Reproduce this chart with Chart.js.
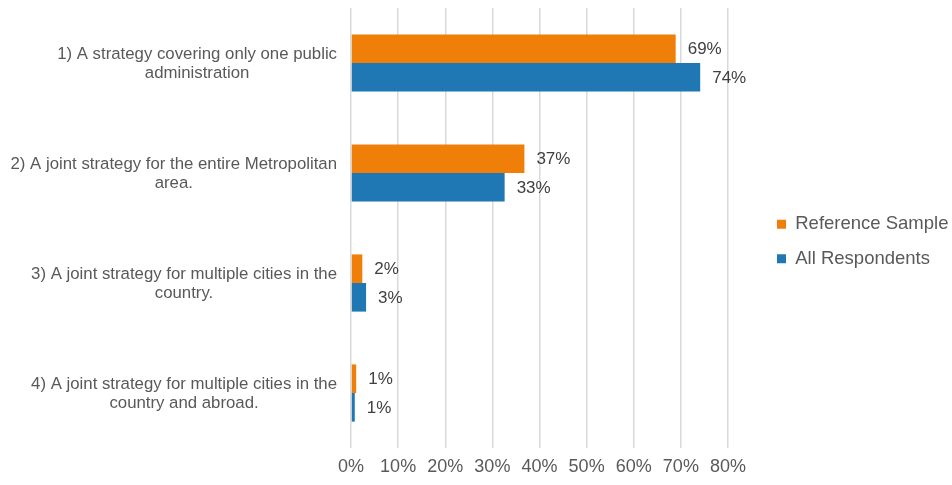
<!DOCTYPE html>
<html>
<head>
<meta charset="utf-8">
<script src="https://cdn.jsdelivr.net/npm/chart.js@4"></script>
<style>
  html, body { margin: 0; padding: 0; background: #fff; }
  #wrap { width: 952px; height: 485px; position: relative; }
</style>
</head>
<body>
<div id="wrap"><canvas id="chartCanvas"></canvas></div>
<script>
// ---- data ----
const categories = [
  ["1) A strategy covering only one public", "administration"],
  ["2) A joint strategy for the entire Metropolitan", "area."],
  ["3) A joint strategy for multiple cities in the", "country."],
  ["4) A joint strategy for multiple cities in the", "country and abroad."]
];
const seriesNames = ["Reference Sample", "All Respondents"];
const referenceSample = [68.9, 36.8, 2.4, 1.1];
const allRespondents = [74.1, 32.6, 3.2, 0.8];
const xTicks = [0, 10, 20, 30, 40, 50, 60, 70, 80];

const ORANGE = "#f07f09";
const BLUE = "#1f77b4";
const FONT = "'Liberation Sans', Arial, sans-serif";

// value labels at the end of each bar
const valueLabels = {
  id: "valueLabels",
  afterDatasetsDraw(chart) {
    const c = chart.ctx;
    c.save();
    c.font = "17px " + FONT;
    c.fillStyle = "#404040";
    c.textAlign = "left";
    c.textBaseline = "middle";
    chart.data.datasets.forEach((ds, i) => {
      chart.getDatasetMeta(i).data.forEach((bar, j) => {
        c.fillText(Math.round(ds.data[j]) + "%", bar.x + 12, bar.y + 1);
      });
    });
    c.restore();
  }
};

// category labels: block right aligned, lines centred inside the block
const catLabels = {
  id: "catLabels",
  afterDraw(chart) {
    const c = chart.ctx;
    const y = chart.scales.y;
    c.save();
    c.font = "16.8px " + FONT;
    c.fillStyle = "#595959";
    c.textAlign = "center";
    c.textBaseline = "middle";
    const right = chart.chartArea.left - 14;
    const lineH = 18.5;
    categories.forEach((lines, i) => {
      const w = Math.max(...lines.map(l => c.measureText(l).width));
      const cx = right - w / 2;
      const py = y.getPixelForTick(i) + 1;
      lines.forEach((l, k) => {
        c.fillText(l, cx, py + (k - (lines.length - 1) / 2) * lineH);
      });
    });
    c.restore();
  }
};

// push the legend away from the plot, as in the original
const legendShift = {
  id: "legendShift",
  afterLayout(chart) {
    const l = chart.legend;
    l.left += 33;
    l.right += 33;
    l.top -= 2;
    l.bottom -= 2;
  }
};

new Chart(document.getElementById("chartCanvas"), {
  type: "bar",
  data: {
    labels: categories,
    datasets: [
      { label: seriesNames[0], data: referenceSample, backgroundColor: ORANGE },
      { label: seriesNames[1], data: allRespondents, backgroundColor: BLUE }
    ]
  },
  options: {
    indexAxis: "y",
    responsive: true,
    maintainAspectRatio: false,
    animation: false,
    layout: { padding: { top: 8, right: 2, left: 0, bottom: 6 } },
    datasets: { bar: { categoryPercentage: 0.52, barPercentage: 1.0 } },
    plugins: {
      legend: {
        position: "right",
        labels: {
          boxWidth: 9,
          boxHeight: 9,
          padding: 16,
          color: "#595959",
          font: { family: FONT, size: 18.5 }
        }
      },
      tooltip: { enabled: false }
    },
    scales: {
      x: {
        min: 0,
        max: 80,
        afterBuildTicks: axis => { axis.ticks = xTicks.map(v => ({ value: v })); },
        afterFit: axis => { axis.paddingRight = 224; axis.height = 31; },
        grid: { color: "#d9d9d9", lineWidth: 1.5, drawTicks: false },
        border: { display: false },
        ticks: {
          color: "#595959",
          font: { family: FONT, size: 18 },
          padding: 8,
          callback: v => v + "%"
        }
      },
      y: {
        grid: { display: false },
        border: { display: false },
        ticks: { display: false },
        afterFit: axis => { axis.width = 351; }
      }
    }
  },
  plugins: [valueLabels, catLabels, legendShift]
});
</script>
</body>
</html>
